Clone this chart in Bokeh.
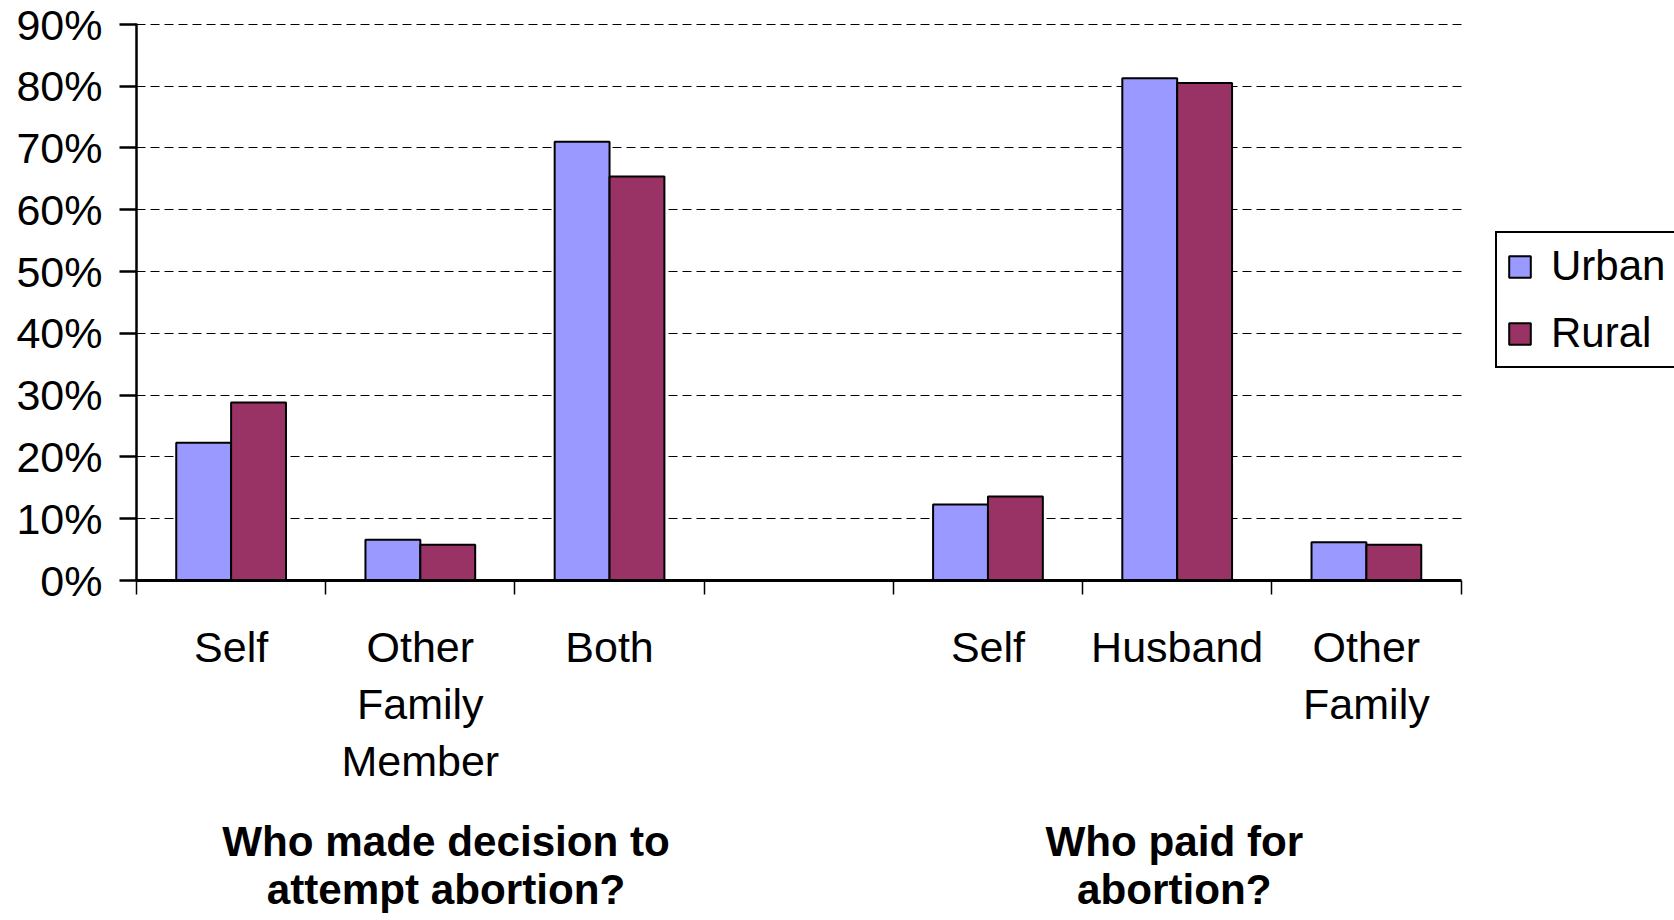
from bokeh.plotting import figure
from bokeh.models import (Range1d, FixedTicker, NumeralTickFormatter, Legend,
                          LegendItem, LinearAxis, ColumnDataSource)
from bokeh.embed import file_html
from bokeh.resources import INLINE

# ---- data ----
categories = ["Self", "Other\nFamily\nMember", "Both", "",
              "Self", "Husband", "Other\nFamily"]
urban = [0.223, 0.066, 0.710, None, 0.123, 0.813, 0.062]
rural = [0.288, 0.058, 0.654, None, 0.136, 0.805, 0.058]
series_names = ["Urban", "Rural"]
series_colors = ["#9999FF", "#993366"]
y_ticks = [0.0, 0.1, 0.2, 0.3, 0.4, 0.5, 0.6, 0.7, 0.8, 0.9]
group_titles = ["Who made decision to\nattempt abortion?",
                "Who paid for\nabortion?"]
group_title_x = [1.636, 5.485]

FONT = "Liberation Sans"
N = len(categories)

W, H = 1674, 920
LEFT, RIGHT_EDGE = 136, 1460.5          # plot area in px (category region)
unit_px = (RIGHT_EDGE - LEFT) / N
x_end = (W - LEFT) / unit_px            # frame runs to the right edge (legend lives there)

p = figure(width=W, height=H, output_backend="svg", toolbar_location=None,
           x_range=Range1d(0, x_end), y_range=Range1d(0, 0.9015),
           min_border_left=LEFT, min_border_right=0, min_border_top=23,
           min_border_bottom=340)
p.outline_line_color = None
p.background_fill_color = "white"
p.border_fill_color = "white"

bar_w = 0.29
renderers = []
for vals, col, off in [(urban, series_colors[0], -bar_w / 2),
                       (rural, series_colors[1], bar_w / 2)]:
    xs = [i + 0.5 + off for i, v in enumerate(vals) if v is not None]
    tops = [v for v in vals if v is not None]
    src = ColumnDataSource(dict(x=xs, top=tops))
    r = p.vbar(x="x", top="top", bottom=0, width=bar_w, source=src,
               fill_color=col, line_color="black", line_width=2)
    renderers.append(r)

# grid
p.xgrid.grid_line_color = None
p.ygrid.ticker = FixedTicker(ticks=y_ticks)
p.ygrid.grid_line_color = "black"
p.ygrid.grid_line_dash = "9 5"
p.ygrid.grid_line_width = 1
p.ygrid.cross_bounds = (0, N)

# y axis
ya = p.yaxis[0]
ya.ticker = FixedTicker(ticks=y_ticks)
ya.formatter = NumeralTickFormatter(format="0%")
ya.axis_line_width = 2.5
ya.axis_line_color = "black"
ya.major_tick_out = 17
ya.major_tick_in = 0
ya.major_tick_line_width = 2.5
ya.minor_tick_line_color = None
ya.major_label_text_font = FONT
ya.major_label_text_font_size = "43px"
ya.major_label_text_color = "black"
ya.major_label_standoff = 17

# x axis (category labels, boundary ticks)
xa = p.xaxis[0]
centers = [i + 0.5 for i in range(N)]
xa.bounds = (0, N)
xa.ticker = FixedTicker(ticks=centers, minor_ticks=list(range(N + 1)))
xa.major_label_overrides = {c: lab for c, lab in zip(centers, categories)}
xa.major_tick_line_color = None
xa.major_tick_out = 0
xa.major_tick_in = 0
xa.minor_tick_out = 14
xa.minor_tick_in = 0
xa.minor_tick_line_color = "black"
xa.minor_tick_line_width = 1.5
xa.axis_line_width = 3
xa.axis_line_color = "black"
xa.major_label_text_font = FONT
xa.major_label_text_font_size = "43px"
xa.major_label_text_color = "black"
xa.major_label_text_line_height = 1.19
xa.major_label_standoff = 28

# second axis below: group titles
ga = LinearAxis(ticker=FixedTicker(ticks=group_title_x), bounds=(0, N))
ga.major_label_overrides = {x: t for x, t in zip(group_title_x, group_titles)}
ga.axis_line_color = None
ga.major_tick_line_color = None
ga.minor_tick_line_color = None
ga.major_tick_out = 0
ga.major_tick_in = 0
ga.major_label_text_font = FONT
ga.major_label_text_font_size = "42.2px"
ga.major_label_text_font_style = "bold"
ga.major_label_text_color = "black"
ga.major_label_text_line_height = 1.04
ga.major_label_standoff = 30
p.add_layout(ga, "below")

# legend
legend = Legend(items=[LegendItem(label=n, renderers=[r])
                       for n, r in zip(series_names, renderers)],
                location=(1359, 212))
legend.label_text_font = FONT
legend.label_text_font_size = "42px"
legend.label_text_color = "black"
legend.glyph_width = 27
legend.glyph_height = 27
legend.label_height = 45
legend.label_standoff = 18
legend.spacing = 19
legend.padding = 9
legend.margin = 0
legend.border_line_color = "black"
legend.border_line_alpha = 1
legend.border_line_width = 2
legend.background_fill_alpha = 1
p.add_layout(legend, "center")

open("out.html", "w").write(file_html(p, INLINE))
